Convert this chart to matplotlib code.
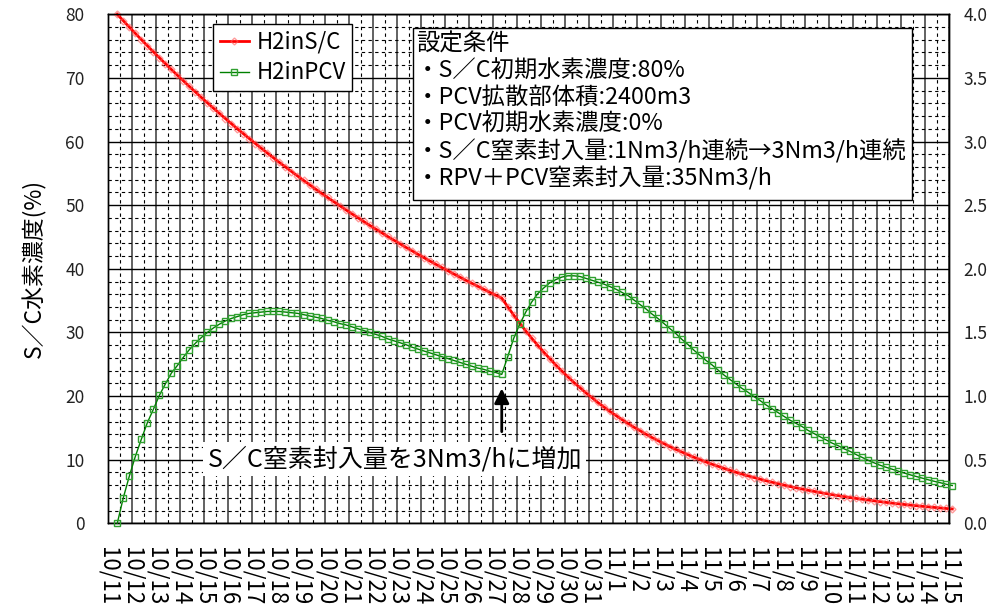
import pandas as pd
import matplotlib
matplotlib.use("Agg")
import matplotlib.pyplot as plt
from matplotlib.patches import Rectangle

plt.rcParams['font.family'] = ['Noto Sans CJK JP', 'DejaVu Sans']

# sample times: every 6 hours from 10/11 09:00
times = pd.date_range("2011-10-11 09:00", periods=140, freq="6h")

# S/C hydrogen concentration (%), left axis
h2_sc = [80.00, 78.99, 77.99, 77.00, 76.03, 75.06, 74.11, 73.17, 72.25, 71.33,
         70.43, 69.54, 68.66, 67.79, 66.93, 66.08, 65.25, 64.42, 63.61, 62.80,
         62.00, 61.22, 60.44, 59.68, 58.92, 58.18, 57.44, 56.71, 56.00, 55.29,
         54.59, 53.90, 53.21, 52.54, 51.88, 51.22, 50.57, 49.93, 49.30, 48.67,
         48.06, 47.45, 46.85, 46.26, 45.67, 45.09, 44.52, 43.96, 43.40, 42.85,
         42.31, 41.77, 41.24, 40.72, 40.21, 39.70, 39.20, 38.70, 38.21, 37.73,
         37.25, 36.78, 36.31, 35.85, 35.40,
         34.03, 32.72, 31.45, 30.24, 29.08, 27.97, 26.90, 25.87, 24.88, 23.94,
         23.03, 22.15, 21.32, 20.51, 19.74, 18.99, 18.28, 17.59, 16.94, 16.30,
         15.70, 15.11, 14.55, 14.01, 13.49, 12.99, 12.52, 12.05, 11.61, 11.19,
         10.78, 10.38, 10.01, 9.64, 9.29, 8.96, 8.63, 8.32, 8.02, 7.73,
         7.45, 7.19, 6.93, 6.68, 6.45, 6.22, 6.00, 5.78, 5.58, 5.38,
         5.19, 5.01, 4.84, 4.67, 4.50, 4.35, 4.20, 4.05, 3.91, 3.78,
         3.65, 3.52, 3.40, 3.28, 3.17, 3.06, 2.96, 2.86, 2.76, 2.67,
         2.58, 2.49, 2.41, 2.33, 2.25]

# PCV hydrogen concentration (%), right axis
h2_pcv = [0.000, 0.200, 0.370, 0.525, 0.660, 0.790, 0.895, 1.005, 1.095, 1.180,
          1.240, 1.305, 1.365, 1.415, 1.460, 1.500, 1.535, 1.565, 1.590, 1.610,
          1.625, 1.640, 1.650, 1.655, 1.660, 1.665, 1.665, 1.665, 1.660, 1.655,
          1.650, 1.640, 1.630, 1.620, 1.610, 1.595, 1.585, 1.570, 1.560, 1.545,
          1.530, 1.515, 1.500, 1.485, 1.470, 1.450, 1.435, 1.420, 1.405, 1.385,
          1.370, 1.355, 1.340, 1.325, 1.310, 1.295, 1.280, 1.265, 1.250, 1.235,
          1.220, 1.210, 1.195, 1.185, 1.170,
          1.310, 1.455, 1.565, 1.660, 1.740, 1.805, 1.850, 1.890, 1.915, 1.935,
          1.945, 1.945, 1.940, 1.925, 1.910, 1.895, 1.880, 1.860, 1.840, 1.815,
          1.790, 1.755, 1.720, 1.685, 1.645, 1.610, 1.570, 1.530, 1.490, 1.445,
          1.405, 1.360, 1.320, 1.280, 1.245, 1.205, 1.165, 1.130, 1.095, 1.060,
          1.030, 0.995, 0.965, 0.930, 0.900, 0.870, 0.840, 0.810, 0.785, 0.760,
          0.730, 0.705, 0.680, 0.655, 0.630, 0.610, 0.585, 0.565, 0.540, 0.518,
          0.495, 0.475, 0.456, 0.440, 0.425, 0.410, 0.395, 0.381, 0.368, 0.355,
          0.342, 0.330, 0.319, 0.307, 0.297]

day_ticks = pd.date_range("2011-10-11", "2011-11-15", freq="D")
day_labels = ["10/11", "10/12", "10/13", "10/14", "10/15", "10/16", "10/17", "10/18",
              "10/19", "10/20", "10/21", "10/22", "10/23", "10/24", "10/25", "10/26",
              "10/27", "10/28", "10/29", "10/30", "10/31", "11/1", "11/2", "11/3",
              "11/4", "11/5", "11/6", "11/7", "11/8", "11/9", "11/10", "11/11",
              "11/12", "11/13", "11/14", "11/15"]
half_days = pd.date_range("2011-10-11 12:00", "2011-11-14 12:00", freq="D")

conditions = ["設定条件",
              "・S／C初期水素濃度:80%",
              "・PCV拡散部体積:2400m3",
              "・PCV初期水素濃度:0%",
              "・S／C窒素封入量:1Nm3/h連続→3Nm3/h連続",
              "・RPV＋PCV窒素封入量:35Nm3/h"]
note = "S／C窒素封入量を3Nm3/hに増加"
step_idx = 64  # time when S/C nitrogen flow was increased

fig = plt.figure(figsize=(9.96, 6.09), dpi=100)
ax = fig.add_axes([0.1087, 0.1407, 0.8444, 0.8358])
ax2 = ax.twinx()

l1, = ax.plot(times, h2_sc, color="#ff0000", lw=2, marker="D", ms=3.5,
              mfc="none", mec=(1, 0.35, 0.35, 0.6), mew=1, label="H2inS/C",
              clip_on=False, zorder=3)
l2, = ax2.plot(times, h2_pcv, color="#008000", lw=1, marker="s", ms=5,
               mfc="none", mec="#30a030", mew=1, label="H2inPCV",
               clip_on=False, zorder=3)

ax.set_xlim(day_ticks[0], day_ticks[-1])
ax.set_ylim(0, 80)
ax2.set_ylim(0, 4)
ax.set_yticks(range(0, 81, 10))
ax.set_yticks(range(0, 81, 2), minor=True)
ax2.set_yticks([i * 0.5 for i in range(9)])
ax2.set_yticklabels([f"{i * 0.5:.1f}" for i in range(9)])
ax.set_xticks(day_ticks)
ax.set_xticklabels(day_labels, rotation=270, fontsize=16, va="top", ha="center")
ax.set_xticks(half_days, minor=True)

ax.xaxis.grid(True, which="major", color="#555555", lw=1.3)
ax.yaxis.grid(True, which="major", color="black", lw=1)
ax.grid(True, which="minor", color="black", lw=0.8, ls=(0, (3, 3)))
ax.set_axisbelow(True)

ax.tick_params(axis="both", which="both", length=0)
ax.tick_params(axis="x", pad=17)
ax.tick_params(axis="y", labelsize=12.5, labelcolor="#222222", pad=17)
ax2.tick_params(axis="y", length=0, labelsize=12.5, labelcolor="#222222", pad=10)
for a in (ax, ax2):
    for s in a.spines.values():
        s.set_color("black")
        s.set_linewidth(1)

ax.set_ylabel("S／C水素濃度(%)", fontsize=16.5, labelpad=14)

leg = ax2.legend(handles=[l1, l2], loc="upper left", bbox_to_anchor=(0.1245, 0.981),
                 borderaxespad=0, fontsize=16, frameon=True, fancybox=False,
                 edgecolor="black", framealpha=1, handlelength=1.3,
                 handletextpad=0.35, borderpad=0.3, labelspacing=0.35, numpoints=1)
leg.get_frame().set_linewidth(1)
leg.set_zorder(10)

# conditions box
fig.patches.append(Rectangle((413 / 996, 1 - 200 / 609), (912 - 413) / 996, (200 - 28) / 609,
                             transform=fig.transFigure, facecolor="white",
                             edgecolor="black", lw=1, zorder=5))
for i, line in enumerate(conditions):
    fig.text(416 / 996, 1 - (44 + 26.8 * i) / 609, line, fontsize=16.8,
             va="center", ha="left", zorder=6)

# arrow and note
ax2.annotate("", xy=(times[step_idx], 1.06), xytext=(times[step_idx], 0.72),
             arrowprops=dict(arrowstyle="-|>", lw=2, color="black", mutation_scale=22,
                             shrinkA=0, shrinkB=0), zorder=6)
ax2.text(pd.Timestamp("2011-10-22 22:00"), 0.505, note, fontsize=18, ha="center",
         va="center", zorder=6,
         bbox=dict(facecolor="white", edgecolor="none", pad=3))

fig.savefig("out.png", dpi=100)
